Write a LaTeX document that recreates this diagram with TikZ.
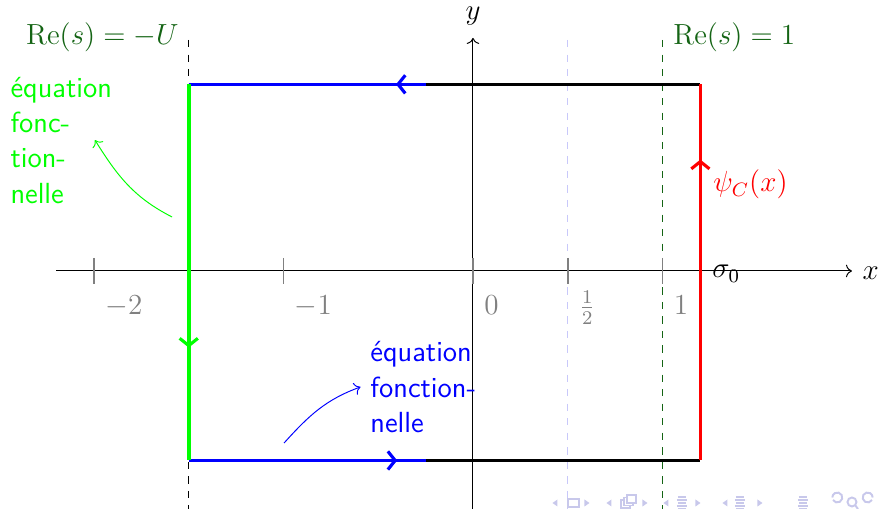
\documentclass[tikz,border=0pt]{standalone}
\usetikzlibrary{decorations.markings,arrows.meta}
\definecolor{dkgreen}{RGB}{20,100,20}
\definecolor{navcol}{RGB}{200,200,235}
\definecolor{halfblue}{RGB}{200,200,250}
\begin{document}
\begin{tikzpicture}[x=78.17pt,y=78.17pt,
  font=\fontsize{12}{14.6}\selectfont,
  contour/.style={line width=1.5pt},
  arrmark/.style={postaction={decorate},decoration={markings,mark=at position #1 with {\arrow{Straight Barb[length=3pt,width=7.5pt,line width=1.3pt]}}}},
  tickmark/.style={gray,thick},
  ticklabel/.style={anchor=base west,inner sep=0,text=gray},
  vline/.style={dashed},
  lbl/.style={inner sep=0},
  sftext/.style={inner sep=0,anchor=base west,font=\sffamily\fontsize{12}{14.6}\selectfont},
  nav/.style={navcol}]
\useasboundingbox (-2.496,-1.256) rectangle (2.148,1.430);
% vertical dashed lines
\coordinate (dU1) at (-1.5,1.219);  \coordinate (dU2) at (-1.5,-1.256);
\coordinate (dH1) at (0.5,1.219);   \coordinate (dH2) at (0.5,-1.256);
\coordinate (dO1) at (1,1.219);     \coordinate (dO2) at (1,-1.256);
\draw[vline,black] (dU1) -- (dU2);
\draw[vline,halfblue] (dH1) -- (dH2);
\draw[vline,dkgreen] (dO1) -- (dO2);
% axes
\coordinate (xa) at (-2.2,0); \coordinate (xb) at (2.0,0);
\coordinate (ya) at (0,-1.256); \coordinate (yb) at (0,1.23);
\draw[->] (xa) -- (xb);
\draw[->] (ya) -- (yb);
\node[lbl,anchor=base west] (xl) at (2.053,-0.0475) {$x$};
\node[lbl,anchor=base] (yl) at (0,1.325) {$y$};
% ticks
\foreach \t/\l [count=\i] in {-2/{$-2$},-1/{$-1$},0/{$0$},0.5/{$\frac{1}{2}$},1/{$1$}}{
  \coordinate (ta\i) at (\t,0.069);
  \coordinate (tb\i) at (\t,-0.069);
  \draw[tickmark] (ta\i) -- (tb\i);
  \node[ticklabel] (tl\i) at (\t+0.058,-0.232) {\l};
}
% contour corners
\coordinate (TL) at (-1.5,0.985); \coordinate (TM) at (-0.25,0.985); \coordinate (TR) at (1.2,0.985);
\coordinate (BL) at (-1.5,-1); \coordinate (BM) at (-0.25,-1); \coordinate (BR) at (1.2,-1);
\draw[black,contour] (TR) -- (TM);
\draw[black,contour] (BM) -- (BR);
\draw[blue,contour,arrmark=0.125] (TM) -- (TL);
\draw[blue,contour,arrmark=0.88] (BL) -- (BM);
\draw[green,contour,arrmark=0.7] (TL) -- (BL);
\draw[red,contour,arrmark=0.8] (BR) -- (TR);
% labels
\node[lbl,anchor=base east,text=dkgreen] (lblU) at (-1.551,1.193) {$\mathrm{Re}(s) = -U$};
\node[lbl,anchor=base west,text=dkgreen] (lbl1) at (1.055,1.193) {$\mathrm{Re}(s) = 1$};
\node[lbl,anchor=base west,text=red] (psi) at (1.2665,0.417) {$\psi_C(x)$};
\node[lbl,anchor=base west] (sig) at (1.261,-0.037) {$\sigma_0$};
% functional equation notes
\node[sftext,text=green] (feg) at (-2.443,0.918)
  {\begin{tabular}[t]{@{}l@{}}équation\\ fonc-\\ tion-\\ nelle\end{tabular}};
\node[sftext,text=blue] (feb) at (-0.5435,-0.480)
  {\begin{tabular}[t]{@{}l@{}}équation\\ fonction-\\ nelle\end{tabular}};
\coordinate (ga) at (-1.588,0.285); \coordinate (gb) at (-1.995,0.691);
\draw[green,->] (ga) to[out=153,in=-58] (gb);
\coordinate (ba) at (-0.997,-0.908); \coordinate (bb) at (-0.5935,-0.612);
\draw[blue,->] (ba) to[out=48,in=200] (bb);
% navigation symbols (pixel coordinates)
\begin{scope}[shift={(-2.496,1.430)},x=0.4125pt,y=-0.4125pt]
  \foreach \c in {555,609,666,725}{\fill[nav] (\c+2.5,499.5) -- (\c+2.5,506.5) -- (\c-2.5,503) -- cycle;}
  \foreach \c in {587,645,698,760}{\fill[nav] (\c-2.5,499.5) -- (\c-2.5,506.5) -- (\c+2.5,503) -- cycle;}
  \draw[nav,line width=0.8pt] (568,499) rectangle (579,507);
  \draw[nav,line width=0.7pt,fill=white] (621,500) rectangle (630,508);
  \draw[nav,line width=0.7pt,fill=white] (624,497.5) rectangle (633,505.5);
  \draw[nav,line width=0.7pt,fill=white] (627,495) rectangle (636,503);
  \foreach \c in {682,740,803}{
    \foreach \yy/\w in {497/4,500/5,503/4,506/5,509/4}{\draw[nav,line width=0.8pt] (\c-\w,\yy) -- (\c+\w,\yy);}
  }
  \draw[nav,line width=0.8pt] (833,500) arc[start angle=150,end angle=-180,radius=5];
  \draw[nav,line width=0.8pt] (852,502) circle[radius=4.5];
  \draw[nav,line width=0.8pt] (855,505) -- (858,509);
  \draw[nav,line width=0.8pt] (872,500) arc[start angle=30,end angle=360,radius=5];
\end{scope}
\end{tikzpicture}
\end{document}
